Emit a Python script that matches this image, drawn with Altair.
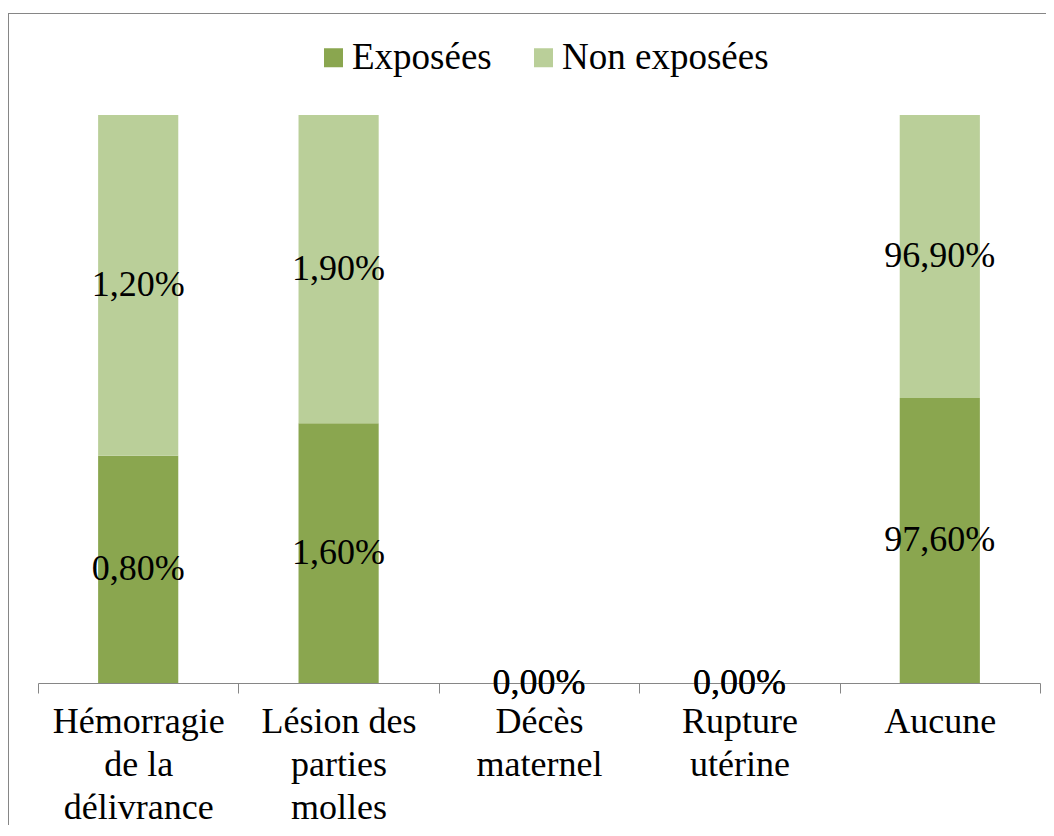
import altair as alt
import pandas as pd

categories = ["Hémorragie|de la|délivrance", "Lésion des|parties|molles",
              "Décès|maternel", "Rupture|utérine", "Aucune"]
series = ["Exposées", "Non exposées"]
exposees = [0.80, 1.60, 0.00, 0.00, 97.60]
non_exposees = [1.20, 1.90, 0.00, 0.00, 96.90]
colors = ["#8AA64F", "#BACF99"]

rows = []
for i, c in enumerate(categories):
    rows.append({"cat": c, "serie": series[0], "ord": 0, "value": exposees[i]})
    rows.append({"cat": c, "serie": series[1], "ord": 1, "value": non_exposees[i]})
df = pd.DataFrame(rows)

FONT = "Liberation Serif"

base = alt.Chart(df).transform_joinaggregate(
    total="sum(value)", groupby=["cat"]
).transform_calculate(
    share="datum.total > 0 ? datum.value / datum.total : 0",
    label="replace(format(datum.value, '.2f'), '.', ',') + '%'"
).transform_stack(
    stack="share", groupby=["cat"], as_=["y0", "y1"], sort=[alt.SortField("ord")]
).transform_calculate(
    mid="(datum.y0 + datum.y1) / 2"
)

xscale = alt.Scale(paddingInner=0, paddingOuter=0)

xenc = alt.X("cat:N", sort=categories, title=None, scale=xscale,
             axis=alt.Axis(labelExpr="split(datum.label, '|')", labelAngle=0,
                           labelFont=FONT, labelFontSize=36, labelColor="black",
                           labelLineHeight=43, labelPadding=11, labelLimit=400,
                           labelOverlap=False, tickBand="extent", tickSize=10,
                           tickColor="#868686", domainColor="#868686",
                           labelBaseline="top"))

bars = base.mark_bar(width=alt.RelativeBandSize(0.4)).encode(
    x=xenc,
    y=alt.Y("y0:Q", scale=alt.Scale(domain=[0, 1]), axis=None),
    y2="y1:Q",
    color=alt.Color("serie:N", sort=series,
                    scale=alt.Scale(domain=series, range=colors),
                    legend=alt.Legend(title=None, orient="none", legendX=277, legendY=-76,
                                      padding=0, direction="horizontal", symbolType="square",
                                      symbolSize=361, symbolStrokeWidth=0, symbolOpacity=1,
                                      labelFont=FONT, labelFontSize=37, labelColor="black",
                                      labelOffset=0, columnPadding=33, labelLimit=400)),
)

texts = base.mark_text(font=FONT, fontSize=36, color="black",
                       baseline="middle", align="center").encode(
    x=alt.X("cat:N", sort=categories, scale=xscale),
    y=alt.Y("mid:Q", scale=alt.Scale(domain=[0, 1])),
    text="label:N",
)

frame_data = alt.Data(values=[{"k": 1}])
left_line = alt.Chart(frame_data).mark_rule(color="#868686", strokeWidth=1).encode(
    x=alt.value(-29.5), y=alt.value(-101.5), y2=alt.value(720))
top_line = alt.Chart(frame_data).mark_rule(color="#868686", strokeWidth=1).encode(
    x=alt.value(-30), x2=alt.value(1020), y=alt.value(-101.5))

chart = alt.layer(bars, texts, left_line, top_line).properties(
    width=1002, height=568,
    autosize=alt.AutoSizeParams(type="none"),
    padding={"left": 30, "top": 107, "right": 6, "bottom": 142},
).configure_view(stroke=None)

chart.save("out.html", embed_options={"renderer": "svg", "actions": False})
